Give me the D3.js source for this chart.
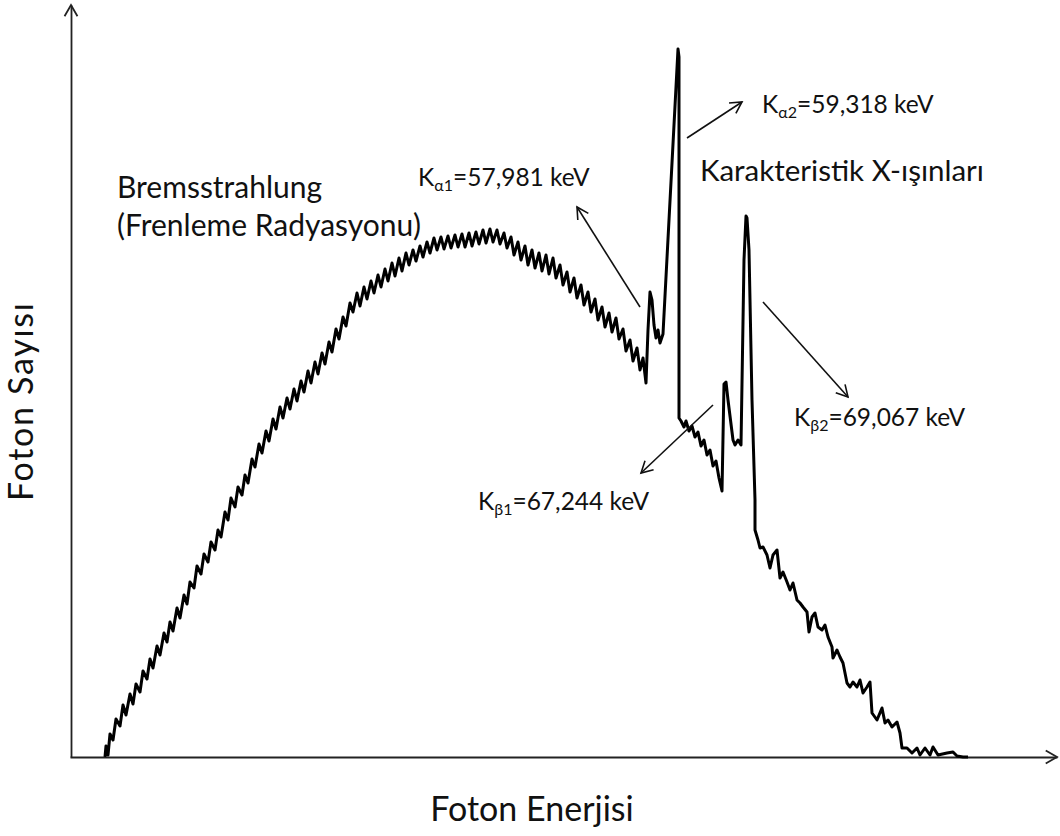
<!DOCTYPE html>
<html>
<head>
<meta charset="utf-8">
<script src="https://cdn.jsdelivr.net/npm/d3@7"></script>
<style>
  html, body { margin: 0; padding: 0; background: #fff; }
  svg { display: block; }
  text { font-family: Lato, "Open Sans", sans-serif; fill: #111; }
</style>
</head>
<body>
<svg id="chart" width="1060" height="836"></svg>
<script>
// Tungsten X-ray tube spectrum: continuous bremsstrahlung plus characteristic K lines.
// Energy in arbitrary channel units, counts in arbitrary units.
const energy = [
  35,36,38,40,43,46,50,53,56,60,63,66,70,73,77,80,83,87,90,94,97,100,103,107,110,114,117,120,124,127,
  131,134,138,141,145,148,151,155,158,161,165,168,172,175,178,182,185,189,192,196,199,203,206,210,213,217,220,224,227,231,
  234,238,241,245,248,252,255,259,262,266,269,273,276,280,283,287,290,294,297,301,304,308,311,315,318,322,325,329,332,336,
  339,343,346,350,353,357,360,364,367,371,374,378,381,385,388,392,395,399,402,406,409,413,416,420,423,427,430,434,437,441,
  444,448,451,455,458,462,465,469,472,476,479,483,486,490,493,497,500,504,507,511,514,518,521,525,528,532,535,539,542,546,
  549,553,556,560,563,567,570,573,576,578,580,582,584,586,588,590,593,608,609,609,611,614,616,619,622,625,628,631,634,637,
  640,643,646,649,652,654,656,658,663,665,668,671,674,676,677,679,682,685,685,688,690,693,697,700,703,707,710,713,717,720,
  723,727,730,733,737,739,742,745,748,752,755,758,762,763,767,770,773,777,780,783,787,790,793,797,800,802,807,812,815,818,
  822,827,830,832,837,842,847,850,855,860,863,868,877,883,887,893,898
];
const counts = [
  0,11,2,23,17,38,31,52,42,63,53,73,65,86,78,98,89,111,102,124,115,135,126,149,139,162,153,175,169,191,
  183,203,195,215,207,227,220,245,237,259,250,270,262,282,274,298,290,313,304,326,316,338,328,350,339,359,348,368,356,376,
  365,386,374,395,383,404,393,415,405,428,418,440,431,454,445,464,451,470,458,476,464,482,470,488,476,494,481,499,486,504,
  492,507,496,511,500,515,504,519,507,520,508,521,509,522,510,523,510,524,511,525,513,527,514,528,515,527,513,524,509,520,
  502,515,497,511,492,507,489,504,486,502,483,499,479,492,472,485,465,479,459,472,452,465,445,458,437,450,430,444,425,439,
  418,428,406,417,396,409,387,399,374,427,465,457,432,419,427,414,423,708,700,339,336,330,336,326,331,320,325,311,317,302,
  307,291,296,279,266,373,375,357,317,312,317,312,497,541,539,507,357,257,227,217,209,210,202,189,202,207,179,185,175,167,
  174,157,154,150,145,125,140,144,130,127,132,120,110,99,107,100,94,74,70,75,70,77,64,70,75,44,37,49,34,37,
  30,35,24,9,9,4,9,2,9,2,10,2,4,5,1,0,0
];

// Characteristic line labels: name, subscript, stated energy
const lineNames = ["K", "K", "K", "K"];
const lineSubs = ["α1", "α2", "β1", "β2"];
const lineEnergies = ["57,981 keV", "59,318 keV", "67,244 keV", "69,067 keV"];

const xTitle = "Foton Enerjisi";
const yTitle = "Foton Sayısı";
const bremsLines = ["Bremsstrahlung", "(Frenleme Radyasyonu)"];
const charTitle = "Karakteristik X-ışınları";

const origin = { x: 70, y: 757 };

const x = d3.scaleLinear().domain([0, 990]).range([origin.x, 1060]);
const y = d3.scaleLinear().domain([0, 757]).range([origin.y, 0]);

const svg = d3.select("#chart");

// Axes without ticks: just the domain lines, finished with open arrowheads
const axisColor = "#222";
const gx = svg.append("g").attr("transform", `translate(0,${origin.y})`)
  .call(d3.axisBottom(x.copy().domain([0, 987]).range([origin.x, 1057])).tickValues([]).tickSizeOuter(0));
const gy = svg.append("g").attr("transform", `translate(${origin.x + 1},0)`)
  .call(d3.axisLeft(y.copy().domain([0, 752]).range([origin.y, 5])).tickValues([]).tickSizeOuter(0));
[gx, gy].forEach(g => g.select(".domain").attr("stroke", axisColor).attr("stroke-width", 1.8));

function arrowHead(g, tx, ty, angle, len, spread, width, color) {
  const a1 = angle + Math.PI - spread, a2 = angle + Math.PI + spread;
  g.append("path")
    .attr("d", `M${tx + len * Math.cos(a1)},${ty + len * Math.sin(a1)}L${tx},${ty}L${tx + len * Math.cos(a2)},${ty + len * Math.sin(a2)}`)
    .attr("fill", "none").attr("stroke", color).attr("stroke-width", width)
    .attr("stroke-linejoin", "miter");
}
arrowHead(svg, 1057, origin.y, 0, 13, 0.52, 1.8, axisColor);
arrowHead(svg, origin.x + 1, 5, -Math.PI / 2, 13, 0.52, 1.8, axisColor);

// Spectrum
const pts = energy.map((e, i) => [e, counts[i]]);
svg.append("path")
  .datum(pts)
  .attr("d", d3.line().x(d => x(d[0])).y(d => y(d[1])))
  .attr("fill", "none")
  .attr("stroke", "#000")
  .attr("stroke-width", 3)
  .attr("stroke-linejoin", "round");

// Annotation arrows (tail -> head) in data units, one per K line
const arrows = [
  { from: [570, 450], to: [507, 550] },  // α1
  { from: [617, 619], to: [672, 655] },  // α2
  { from: [643, 352], to: [571, 284] },  // β1
  { from: [693, 455], to: [778, 360] }   // β2
];
arrows.forEach(a => {
  const x1 = x(a.from[0]), y1 = y(a.from[1]), x2 = x(a.to[0]), y2 = y(a.to[1]);
  svg.append("line").attr("x1", x1).attr("y1", y1).attr("x2", x2).attr("y2", y2)
    .attr("stroke", "#111").attr("stroke-width", 1.6);
  arrowHead(svg, x2, y2, Math.atan2(y2 - y1, x2 - x1), 13, 0.5, 1.6, "#111");
});

// Line labels
const labelAt = [[348, 571], [692, 644], [408, 247], [724, 331]];
labelAt.forEach((p, i) => {
  const t = svg.append("text").attr("x", x(p[0])).attr("y", y(p[1]))
    .attr("font-size", 24.5);
  t.append("tspan").text(lineNames[i]);
  t.append("tspan").attr("font-size", 16).attr("dy", 5).text(lineSubs[i]);
  t.append("tspan").attr("dy", -5).text("=" + lineEnergies[i]);
});

svg.append("text").attr("x", x(47)).attr("y", y(559)).attr("font-size", 30).text(bremsLines[0]);
svg.append("text").attr("x", x(47)).attr("y", y(521)).attr("font-size", 30).text(bremsLines[1]);
svg.append("text").attr("x", x(630)).attr("y", y(576)).attr("font-size", 29.5).text(charTitle);

svg.append("text").attr("x", 532).attr("y", 821).attr("text-anchor", "middle")
  .attr("font-size", 34).text(xTitle);
svg.append("text").attr("transform", `translate(33,402) rotate(-90)`).attr("text-anchor", "middle")
  .attr("font-size", 34).attr("textLength", 198).text(yTitle);
</script>
</body>
</html>
